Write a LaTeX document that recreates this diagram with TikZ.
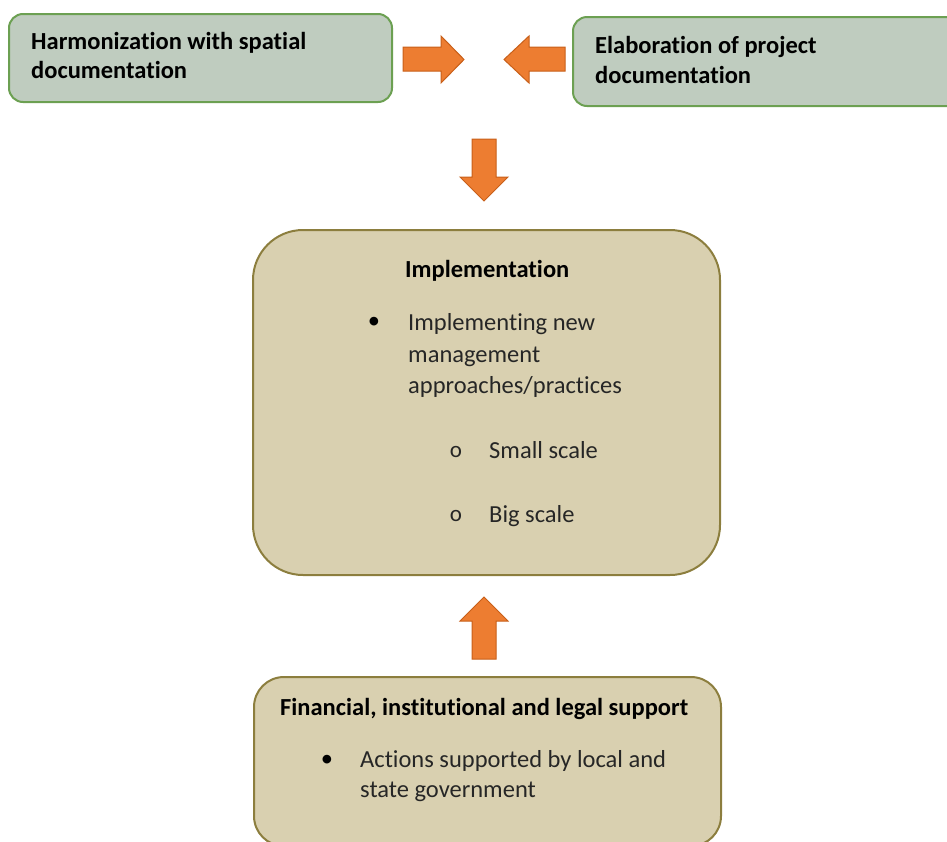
\documentclass[tikz,border=0pt]{standalone}
\usepackage{fontspec}
\setmainfont{Carlito}[Ligatures=NoCommon]
\definecolor{gfill}{RGB}{191,204,191}
\definecolor{gline}{RGB}{108,160,82}
\definecolor{tfill}{RGB}{217,208,176}
\definecolor{tline}{RGB}{140,126,62}
\definecolor{ofill}{RGB}{237,125,49}
\definecolor{oline}{RGB}{200,95,25}
\begin{document}
\begin{tikzpicture}[x=1pt,y=-1pt,
  gbox/.style={draw=gline,fill=gfill,line width=2pt,rounded corners=14pt},
  tbox/.style={draw=tline,fill=tfill,line width=2pt},
  blk/.style={fill=ofill,draw=oline,line width=1pt,line join=miter},
  txt/.style={anchor=base west,inner sep=0pt,text=black!85,font=\fontsize{24.5}{29}\selectfont},
  btxt/.style={txt,text=black,font=\fontsize{24.5}{29}\selectfont\bfseries},
  dot/.style={anchor=center,inner sep=0pt,font=\fontsize{24.5}{29}\selectfont},
  circ/.style={anchor=center,inner sep=0pt,text=black!85,font=\fontsize{23}{26}\selectfont}]
\useasboundingbox (0,0) rectangle (947,841);
\clip (0,0) rectangle (947,841);
% boxes
\draw[gbox] (9,14) rectangle (392,102);
\node[inner sep=0pt] (harm) at (200.5,58) {};
\draw[gbox] (573,17) rectangle (970,106);
\node[inner sep=0pt] (elab) at (760,61) {};
\draw[tbox,rounded corners=50pt] (253,230) rectangle (720,575);
\node[inner sep=0pt] (impl) at (486.5,402) {};
\draw[tbox,rounded corners=30pt] (254,677) rectangle (721,846);
\node[inner sep=0pt] (supp) at (487.5,760) {};
% texts
\node[btxt] (h1) at (31,49) {Harmonization with spatial};
\node[btxt] (h2) at (31,78) {documentation};
\node[btxt] (e1) at (595,53) {Elaboration of project};
\node[btxt] (e2) at (595,83) {documentation};
\node[btxt] (it) at (405,277) {Implementation};
\node[dot] (b1) at (374,323) {•};
\node[txt] (i1) at (408,330) {Implementing new};
\node[txt] (i2) at (408,362) {management};
\node[txt] (i3) at (408,393) {approaches/practices};
\node[circ] (o1) at (456,452) {o};
\node[txt] (s1) at (489,458) {Small scale};
\node[circ] (o2) at (456,516) {o};
\node[txt] (s2) at (489,522) {Big scale};
\node[btxt] (st) at (280,715) {Financial, institutional and legal support};
\node[dot] (b2) at (327,761) {•};
\node[txt] (a1) at (360,767) {Actions supported by local and};
\node[txt] (a2) at (360,797) {state government};
% block arrows
\draw[blk] (403,47) -- (441,47) -- (441,36) -- (464,59.5) -- (441,83) -- (441,71) -- (403,71) -- cycle;
\draw[blk] (565,47) -- (529,47) -- (529,36) -- (504,59.5) -- (529,83) -- (529,71) -- (565,71) -- cycle;
\draw[blk] (472,139) -- (496,139) -- (496,177) -- (508,177) -- (484,201) -- (460,177) -- (472,177) -- cycle;
\draw[blk] (472,659) -- (496,659) -- (496,621) -- (508,621) -- (484,597) -- (460,621) -- (472,621) -- cycle;
\end{tikzpicture}
\end{document}
